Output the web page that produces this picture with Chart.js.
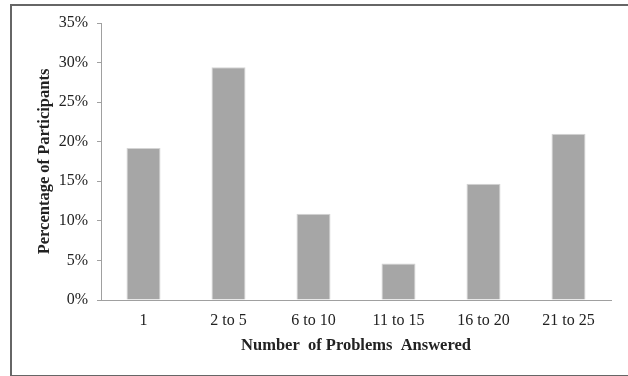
<!DOCTYPE html>
<html>
<head>
<meta charset="utf-8">
<script src="https://cdn.jsdelivr.net/npm/chart.js@4"></script>
<style>
  html, body { margin: 0; padding: 0; background: #fff; }
  #wrap { position: relative; width: 628px; height: 376px; overflow: hidden; }
  #frame { position: absolute; left: 10px; top: 4px; width: 640px; height: 369px; border: 2px solid #666; box-sizing: content-box; pointer-events: none; }
  canvas { position: absolute; left: 0; top: 0; }
</style>
</head>
<body>
<div id="wrap">
  <canvas id="c" width="628" height="376"></canvas>
  <div id="frame"></div>
</div>
<script>
const categories = ["1", "2 to 5", "6 to 10", "11 to 15", "16 to 20", "21 to 25"];
const percentages = [19.2, 29.4, 10.9, 4.6, 14.7, 21.0];
const yTicks = [0, 5, 10, 15, 20, 25, 30, 35];

const axisColor = '#a0a0a0';
const textColor = '#222';
const fontFamily = '"Liberation Serif", "Times New Roman", serif';

new Chart(document.getElementById('c'), {
  type: 'bar',
  data: {
    labels: categories,
    datasets: [{
      data: percentages,
      backgroundColor: '#a6a6a6',
      borderColor: '#d4d4d4',
      borderWidth: 1,
      barPercentage: 0.4,
      categoryPercentage: 1.0
    }]
  },
  options: {
    responsive: false,
    animation: false,
    devicePixelRatio: 1,
    layout: { padding: { left: 31, right: 17, top: 23, bottom: 0 } },
    plugins: { legend: { display: false }, tooltip: { enabled: false } },
    scales: {
      x: {
        afterFit: (scale) => { scale.height = 76; },
        grid: { display: true, drawOnChartArea: false, drawTicks: false, color: axisColor },
        border: { display: true, color: axisColor, width: 1 },
        ticks: { color: textColor, font: { family: fontFamily, size: 16 }, padding: 11, maxRotation: 0 },
        title: { display: true, text: 'Number  of Problems  Answered', color: textColor,
                 font: { family: fontFamily, size: 16.5, weight: 'bold' }, padding: { top: 4, bottom: 20 } }
      },
      y: {
        min: 0, max: 35,
        afterBuildTicks: (scale) => { scale.ticks = yTicks.map(v => ({ value: v })); },
        afterFit: (scale) => { scale.width = 70; },
        grid: { display: true, drawOnChartArea: false, drawTicks: true, tickLength: 4, color: axisColor },
        border: { display: true, color: axisColor, width: 1 },
        ticks: { color: textColor, font: { family: fontFamily, size: 16 }, padding: 9,
                 callback: (v) => v + '%' },
        title: { display: true, text: 'Percentage of Participants', color: textColor,
                 font: { family: fontFamily, size: 16.5, weight: 'bold' }, padding: { top: 4, bottom: 0 } }
      }
    }
  }
});
</script>
</body>
</html>
